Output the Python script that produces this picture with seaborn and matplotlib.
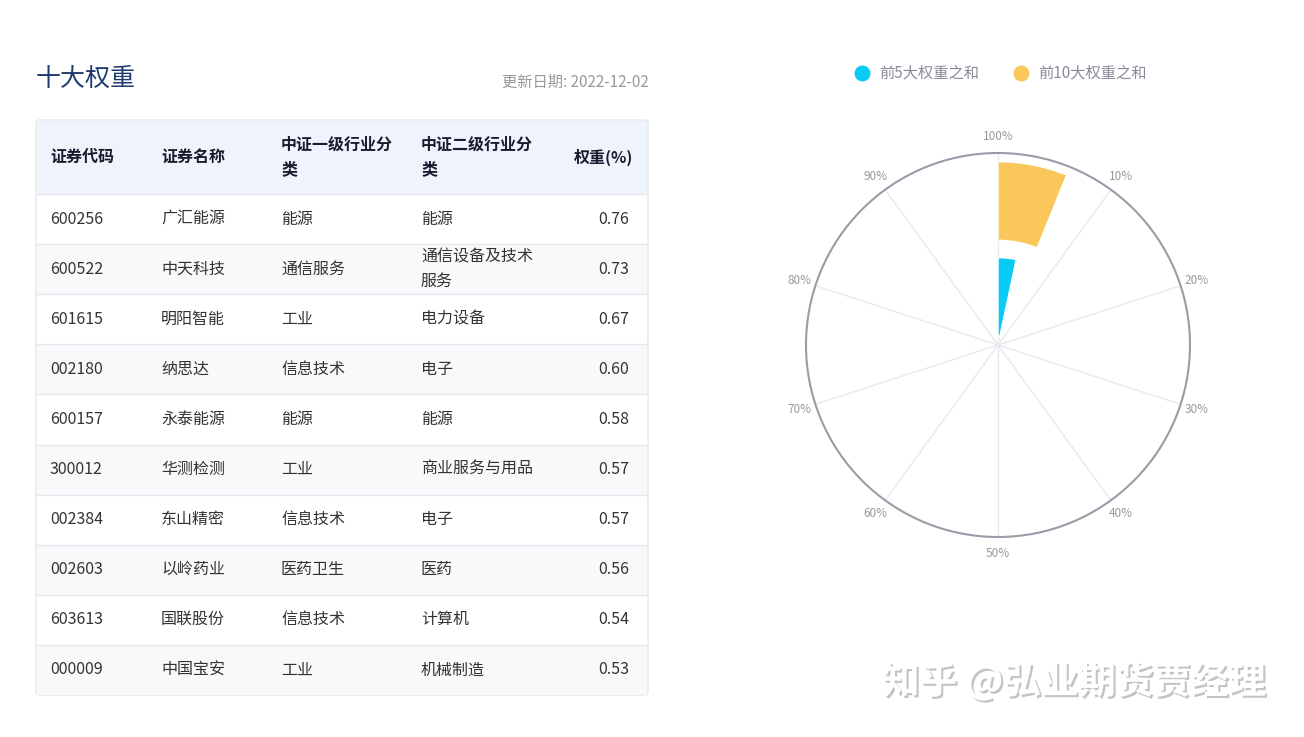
import matplotlib
matplotlib.use("Agg")
import matplotlib.pyplot as plt
import matplotlib.patheffects as pe
import seaborn as sns
import numpy as np
from matplotlib.patches import Rectangle, FancyBboxPatch

codes = ["600256","600522","601615","002180","600157","300012","002384","002603","603613","000009"]
names = ["广汇能源","中天科技","明阳智能","纳思达","永泰能源","华测检测","东山精密","以岭药业","国联股份","中国宝安"]
ind1 = ["能源","通信服务","工业","信息技术","能源","工业","信息技术","医药卫生","信息技术","工业"]
ind2 = ["能源","通信设备及技术\n服务","电力设备","电子","能源","商业服务与用品","电子","医药","计算机","机械制造"]
weights = [0.76,0.73,0.67,0.60,0.58,0.57,0.57,0.56,0.54,0.53]
headers = ["证券代码","证券名称","中证一级行业分\n类","中证二级行业分\n类","权重(%)"]
series = ["前5大权重之和","前10大权重之和"]
series_vals = [sum(weights[:5]), sum(weights)]
colors = ["#0ACBF5","#F9C75A"]
angle_ticks = [0,10,20,30,40,50,60,70,80,90]

sns.set_theme(style="white")
plt.rcParams['font.family'] = ['Noto Sans CJK SC','DejaVu Sans']

fig = plt.figure(figsize=(13.04,7.37), dpi=100)
ov = fig.add_axes([0,0,1,1])
ov.set_xlim(0,1304); ov.set_ylim(737,0); ov.axis('off')

ov.text(36,79,"十大权重",fontsize=18,color="#1F3A6E",va='center')
ov.text(649,82,"更新日期: 2022-12-02",fontsize=11,color="#999999",va='center',ha='right')

# table
ov.add_patch(FancyBboxPatch((36,120),612,575,boxstyle="round,pad=0,rounding_size=3",fc="white",ec="#E3E6EC",lw=1))
ov.add_patch(Rectangle((37,121),610,73,fc="#EEF3FC",ec="none"))
colx = [50,161,281,421]
for i,h in enumerate(headers[:4]):
    ov.text(colx[i],157,h,fontsize=11.5,fontweight='bold',color="#1A1A2E",va='center',linespacing=1.6)
ov.text(633,157,headers[4],fontsize=11.5,fontweight='bold',color="#1A1A2E",va='center',ha='right')
for r in range(len(codes)):
    y0 = 194+r*50.1
    if r%2==1:
        ov.add_patch(Rectangle((37,y0),610,50,fc="#F8F9FB",ec="none"))
    ov.plot([37,647],[y0,y0],color="#E6E8EE",lw=1)
    yc = y0+25
    for i,v in enumerate([codes[r],names[r],ind1[r],ind2[r]]):
        ov.text(colx[i],yc,v,fontsize=11.5,color="#333333",va='center',linespacing=1.5)
    ov.text(629,yc,f"{weights[r]:.2f}",fontsize=11.5,color="#333333",va='center',ha='right')

# legend
for (lx,s,c) in [(862,series[0],colors[0]),(1021,series[1],colors[1])]:
    ov.scatter([lx],[73],s=110,color=c)
    ov.text(lx+17,73,s,fontsize=11,color="#8A8A99",va='center')

# watermark
ov.text(1074,682,"知乎 @弘业期货贾经理",fontsize=27,color="white",ha='center',va='center',
        fontweight='bold',
        path_effects=[pe.withSimplePatchShadow(offset=(1.5,-1.5),shadow_rgbFace="#555555",alpha=0.35)])

# polar
cx,cy,R = 998,345,192
pax = fig.add_axes([(cx-R)/1304,(737-cy-R)/737,2*R/1304,2*R/737],projection='polar')
pax.set_theta_zero_location('N'); pax.set_theta_direction(-1)
pax.set_ylim(0,2)
for i,(v,c) in enumerate(zip(series_vals,colors)):
    th = np.deg2rad(v/100*360)
    pax.bar(0,0.82,width=th,bottom=i+0.09,align='edge',color=c,zorder=3)
pax.set_xticks(np.deg2rad(np.array(angle_ticks)*3.6))
pax.set_xticklabels([("100%" if t==0 else f"{t}%") for t in angle_ticks],fontsize=8.5,color="#999999")
pax.tick_params(axis='x',pad=-1)
pax.set_yticks([]); pax.yaxis.grid(False)
pax.xaxis.grid(True,color="#E8E8EE",lw=1)
pax.spines['polar'].set_color("#9D9AA8"); pax.spines['polar'].set_linewidth(1.5)
pax.set_facecolor("white")

fig.savefig("out.png",dpi=100)
